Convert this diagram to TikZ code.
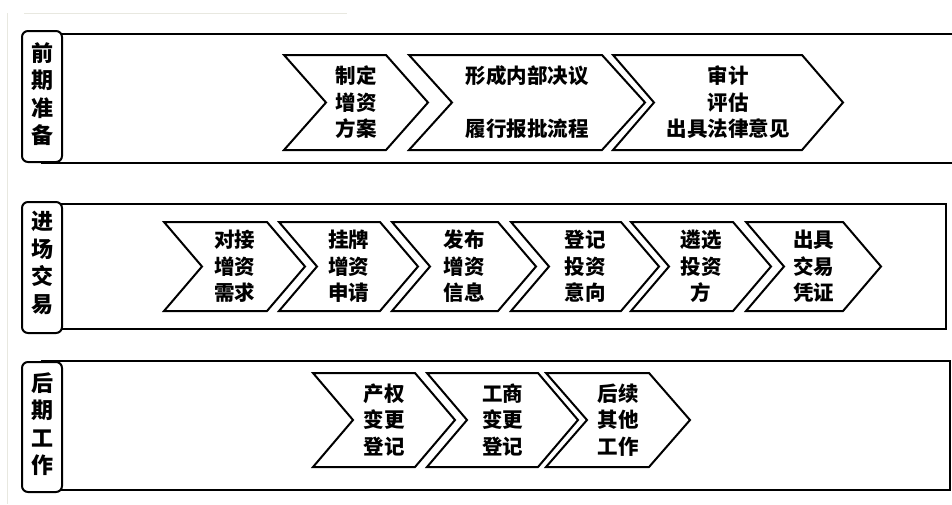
\documentclass[tikz,border=0pt]{standalone}
\usepackage{fontspec}
\newfontfamily\cjk{Noto Sans CJK SC}
\tikzset{
  frame/.style={line width=2pt, draw=black},
  lab/.style={line width=2pt, draw=black, fill=white, rounded corners=6pt},
  labtext/.style={font=\cjk\bfseries\fontsize{22}{27.5}\selectfont, align=center, inner sep=0pt},
  chev/.style={line width=2pt, draw=black, fill=white, line join=miter},
  chevtext/.style={font=\cjk\bfseries\fontsize{20.5}{26.5}\selectfont, align=center, inner sep=0pt},
  faint/.style={line width=0.8pt, draw={rgb,255:red,232;green,232;blue,224}}
}
\newcommand\chevbox[7]{%
  \draw[chev] (#2,#4) -- (#3,#4) -- ({#3+#6},{(#4+#5)/2}) -- (#3,#5) -- (#2,#5) -- ({#2+#6},{(#4+#5)/2}) -- cycle;
  \node[chevtext] (#1) at ({(#2+#6+#3)/2},{(#4+#5)/2}) {#7};}
\begin{document}
\begin{tikzpicture}[x=1pt,y=-1pt]
\useasboundingbox (0,0) rectangle (952,504);
\fill[white] (0,0) rectangle (952,504);
% faint lines
\draw[faint] (24,13) -- (347,13);
\draw[faint] (7,13) -- (7,504);
% row frames
\draw[frame] (42,34) rectangle (960,163);
\draw[frame] (42,204) rectangle (946,329);
\draw[frame] (42,361) rectangle (950,490);
% labels
\draw[lab] (22,31) rectangle (62,162);
\node[labtext] (l1) at (42,94) {前\\期\\准\\备};
\draw[lab] (22,202) rectangle (62,333);
\node[labtext] (l2) at (42,263) {进\\场\\交\\易};
\draw[lab] (22,362) rectangle (62,492);
\node[labtext] (l3) at (42,424) {后\\期\\工\\作};
% row 1
\chevbox{c1}{284}{386}{55}{150}{42}{制定\\增资\\方案}
\chevbox{c2}{409}{602}{55}{150}{43}{形成内部决议\\\mbox{}\\履行报批流程}
\chevbox{c3}{613}{802}{55}{150}{41}{审计\\评估\\出具法律意见}
% row 2
\chevbox{d1}{164}{267}{222}{311}{38}{对接\\增资\\需求}
\chevbox{d2}{279}{380}{222}{311}{38}{挂牌\\增资\\申请}
\chevbox{d3}{392}{498}{222}{311}{38}{发布\\增资\\信息}
\chevbox{d4}{511}{621}{222}{311}{38}{登记\\投资\\意向}
\chevbox{d5}{631}{733}{222}{311}{38}{遴选\\投资\\方}
\chevbox{d6}{746}{843}{222}{311}{38}{出具\\交易\\凭证}
% row 3
\chevbox{e1}{313}{415}{373}{467}{40}{产权\\变更\\登记}
\chevbox{e2}{427}{538}{373}{467}{40}{工商\\变更\\登记}
\chevbox{e3}{546}{649}{373}{467}{41}{后续\\其他\\工作}
\end{tikzpicture}
\end{document}
